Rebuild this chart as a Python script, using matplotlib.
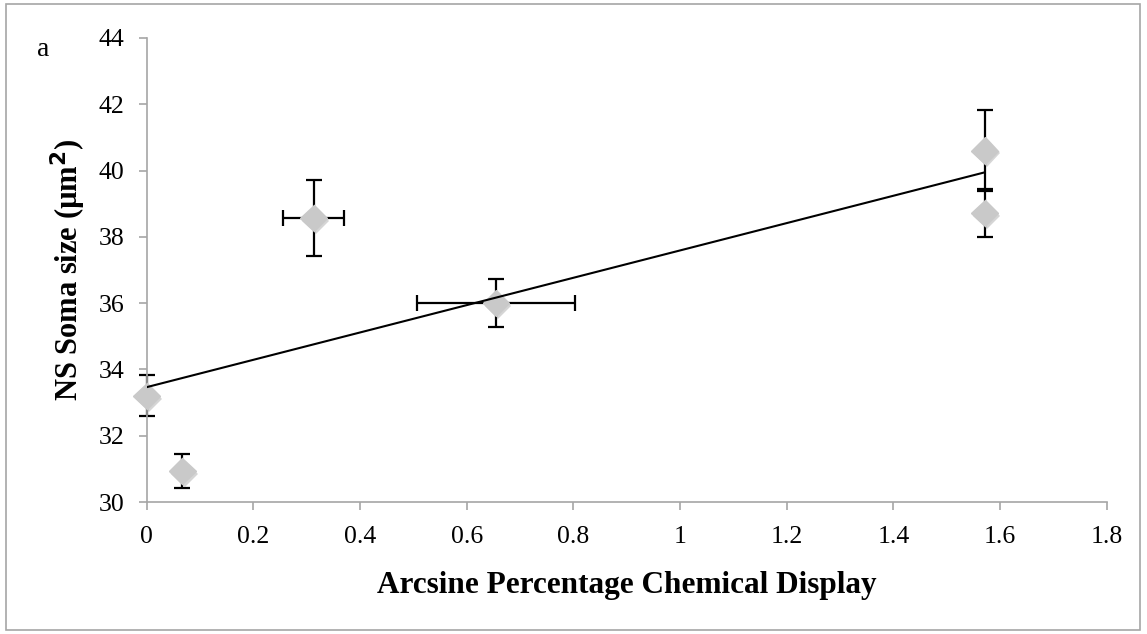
# точечная диаграмма: размер сомы NS против арксинуса доли химического отображения
import numpy as np
import matplotlib.pyplot as plt
import matplotlib.patheffects as pe
from matplotlib.patches import Rectangle

plt.rcParams['font.family'] = ['Liberation Serif', 'DejaVu Serif']

# данные
arcsine_display = [0.0, 0.067, 0.313, 0.655, 1.571, 1.571]
soma_size = [33.2, 30.93, 38.57, 36.0, 40.6, 38.72]
soma_err = [0.62, 0.51, 1.15, 0.72, 1.23, 0.72]
display_err = [0.0, 0.0, 0.057, 0.148, 0.0, 0.0]

x_ticks = [0, 0.2, 0.4, 0.6, 0.8, 1, 1.2, 1.4, 1.6, 1.8]
x_tick_labels = ['0', '0.2', '0.4', '0.6', '0.8', '1', '1.2', '1.4', '1.6', '1.8']
y_ticks = [30, 32, 34, 36, 38, 40, 42, 44]

fig = plt.figure(figsize=(11.47, 6.34), dpi=100)
ax = fig.add_axes([0.1279, 0.2082, 0.8370, 0.7319])

# рамка вокруг всей картинки
fig.patches.append(Rectangle((0.005, 0.007), 0.989, 0.987, transform=fig.transFigure,
                             fill=False, edgecolor='#a6a6a6', linewidth=1.2))

# усы погрешностей
eb = ax.errorbar(arcsine_display, soma_size, yerr=soma_err, xerr=display_err, fmt='none',
                 ecolor='black', elinewidth=1.6, capsize=5.8, capthick=1.6, zorder=2)
for artist in eb.lines[1] + eb.lines[2]:
    artist.set_clip_on(False)

# ромбы с лёгкой тенью
ax.plot(arcsine_display, soma_size, linestyle='none', marker='D', markersize=13.5,
        markerfacecolor='#c9c9c9', markeredgecolor='#c9c9c9', zorder=3, clip_on=False,
        path_effects=[pe.SimplePatchShadow(offset=(1.5, -2), shadow_rgbFace='#888888', alpha=0.35),
                      pe.Normal()])

# линейный тренд
slope, intercept = np.polyfit(arcsine_display, soma_size, 1)
x_line = np.array([min(arcsine_display), max(arcsine_display)])
ax.plot(x_line, slope * x_line + intercept, color='black', linewidth=1.5, zorder=4)

ax.set_xlim(0, 1.8)
ax.set_ylim(30, 44)
ax.set_xticks(x_ticks)
ax.set_xticklabels(x_tick_labels)
ax.set_yticks(y_ticks)

for side in ['top', 'right']:
    ax.spines[side].set_visible(False)
for side in ['left', 'bottom']:
    ax.spines[side].set_color('#a6a6a6')
    ax.spines[side].set_linewidth(1.2)

ax.tick_params(axis='both', direction='out', length=6, width=1.2, color='#a6a6a6',
               labelsize=18.5, labelcolor='black')
ax.tick_params(axis='y', pad=10)
ax.tick_params(axis='x', pad=11)

ax.set_xlabel('Arcsine Percentage Chemical Display', fontsize=22.5, fontweight='bold', labelpad=17)
ax.set_ylabel('NS Soma size (µm$^\\mathbf{2}$)', fontsize=22, fontweight='bold', labelpad=8)

fig.text(0.032, 0.912, 'a', fontsize=20)

fig.savefig('out.png', dpi=100)
